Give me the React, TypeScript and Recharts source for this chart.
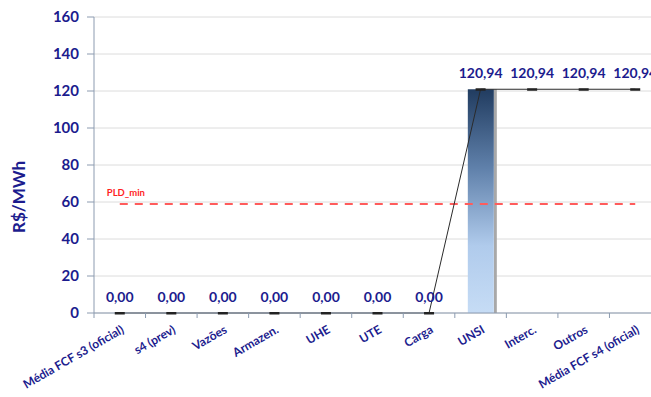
import {
  Bar,
  CartesianGrid,
  ComposedChart,
  LabelList,
  Line,
  ReferenceLine,
  XAxis,
  YAxis,
} from 'recharts';

const NAVY = '#1c1c8e';
const FONT = 'Lato, "Noto Sans", sans-serif';

const categories = [
  'Média FCF s3 (oficial)',
  's4 (prev)',
  'Vazões',
  'Armazen.',
  'UHE',
  'UTE',
  'Carga',
  'UNSI',
  'Interc.',
  'Outros',
  'Média FCF s4 (oficial)',
];
// running PLD level after each step (R$/MWh)
const levels = [0, 0, 0, 0, 0, 0, 0, 120.94, 120.94, 120.94, 120.94];
// contribution of each step
const deltas = [0, 0, 0, 0, 0, 0, 0, 120.94, 0, 0, 0];
const yTicks = [0, 20, 40, 60, 80, 100, 120, 140, 160];
const pldMin = 58.9;

const rows = categories.map((name, i) => ({
  name,
  level: levels[i],
  base: levels[i] - deltas[i],
  delta: deltas[i],
}));

const fmt = (v: number) => v.toFixed(2).replace('.', ',');

function StepBar(props: any) {
  const { x, y, width, height } = props;
  if (!height || height <= 0) return null;
  return (
    <g>
      <rect x={x + width} y={y} width={3} height={height} fill="#a8a8a8" />
      <rect x={x} y={y} width={width} height={height} fill="url(#stepFill)" />
    </g>
  );
}

function DashDot(props: any) {
  const { cx, cy } = props;
  if (cx == null || cy == null) return null;
  return <rect x={cx - 5} y={cy - 1} width={10} height={2.5} fill="#222" />;
}

function CategoryTick(props: any) {
  const { x, y, payload } = props;
  const half = payload.offset || 25.8;
  return (
    <g>
      <line x1={x - half} x2={x - half} y1={y - 8} y2={y - 3} stroke="#8c9bb0" />
      <text
        x={x + 5}
        y={y + 11}
        transform={`rotate(-30 ${x + 5} ${y + 11})`}
        textAnchor="end"
        fill={NAVY}
        fontSize={12}
        fontWeight={700}
        fontFamily={FONT}
      >
        {payload.value}
      </text>
    </g>
  );
}

function ValueLabel(props: any) {
  const { x, y, value } = props;
  return (
    <text
      x={x}
      y={y - 11}
      textAnchor="middle"
      fill={NAVY}
      fontSize={14}
      fontWeight={700}
      fontFamily={FONT}
    >
      {fmt(value)}
    </text>
  );
}

function PldLabel(props: any) {
  const { viewBox } = props;
  return (
    <text
      x={viewBox.x - 13}
      y={viewBox.y - 8}
      fill="#ff1f1f"
      fontSize={9.5}
      fontWeight={700}
      fontFamily={FONT}
    >
      PLD_min
    </text>
  );
}

function YTitle(props: any) {
  const { viewBox } = props;
  const cy = viewBox.y + viewBox.height / 2 + 32;
  return (
    <text
      x={18}
      y={cy}
      transform={`rotate(-90 18 ${cy})`}
      textAnchor="middle"
      dominantBaseline="central"
      fill={NAVY}
      fontSize={17}
      fontWeight={700}
      fontFamily={FONT}
    >
      R$/MWh
    </text>
  );
}

export default function App() {
  return (
    <div
      style={{
        position: 'absolute',
        left: 0,
        top: 0,
        width: 651,
        height: 397,
        overflow: 'hidden',
        background: '#fff',
      }}
    >
      <ComposedChart
        width={661}
        height={397}
        data={rows}
        margin={{ top: 17, right: 0, bottom: 0, left: 0 }}
        barCategoryGap={0}
      >
        <defs>
          <linearGradient id="stepFill" x1="0" y1="0" x2="0" y2="1">
            <stop offset="0%" stopColor="#213c60" />
            <stop offset="35%" stopColor="#5f80aa" />
            <stop offset="70%" stopColor="#b0cbec" />
            <stop offset="100%" stopColor="#c6dcf5" />
          </linearGradient>
        </defs>
        <CartesianGrid vertical={false} stroke="#dcdcdc" />
        <XAxis
          dataKey="name"
          interval={0}
          height={84}
          stroke="#8c9bb0"
          tickLine={false}
          tick={<CategoryTick />}
        />
        <YAxis
          width={94}
          domain={[0, 160]}
          ticks={yTicks}
          stroke="#8c9bb0"
          tickSize={7}
          tickMargin={8}
          tick={{ fill: NAVY, fontSize: 15, fontWeight: 700, fontFamily: FONT }}
          label={<YTitle />}
        />
        <ReferenceLine
          segment={[
            { x: categories[0], y: pldMin },
            { x: categories[categories.length - 1], y: pldMin },
          ]}
          stroke="#ff5c5c"
          strokeWidth={2}
          strokeDasharray="8 7"
          label={<PldLabel />}
        />
        <Bar dataKey="base" stackId="w" fill="transparent" barSize={26} isAnimationActive={false} />
        <Bar dataKey="delta" stackId="w" barSize={26} shape={<StepBar />} isAnimationActive={false} />
        <Line
          dataKey="level"
          type="linear"
          stroke="#2b2b2b"
          strokeWidth={1}
          dot={<DashDot />}
          activeDot={false}
          isAnimationActive={false}
        >
          <LabelList dataKey="level" content={<ValueLabel />} />
        </Line>
      </ComposedChart>
    </div>
  );
}
